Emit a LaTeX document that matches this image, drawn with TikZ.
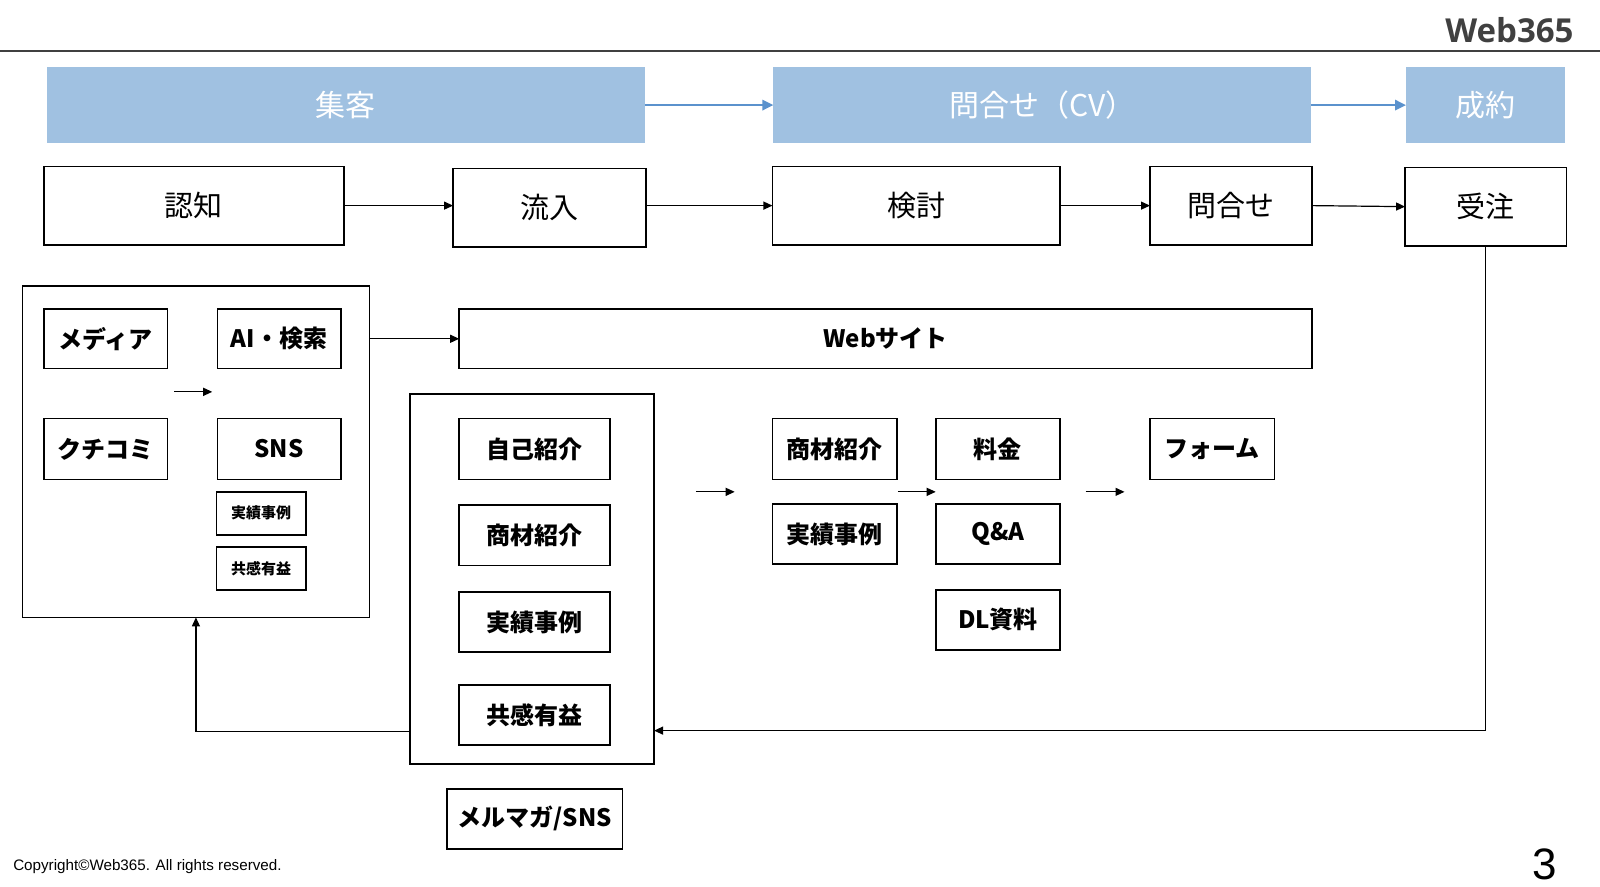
\documentclass[tikz,border=0pt]{standalone}
\usepackage{fontspec}
\setmainfont{Liberation Sans}
\newfontfamily\jp{Noto Sans CJK JP}
\newfontfamily\logo{Open Sans}
\usetikzlibrary{arrows.meta}
\definecolor{hdr}{RGB}{160,193,225}
\definecolor{hdrarrow}{RGB}{91,146,205}
\definecolor{logogray}{RGB}{64,64,64}
\newcommand\bx[7]{\node[#6, minimum width={(#4-#2)*0.5102pt}, minimum height={(#5-#3)*0.5102pt}] (#1) at ({(#2+#4)/2},{(#3+#5)/2}) {#7};}
\begin{document}
\begin{tikzpicture}[x=0.5102pt,y=-0.5102pt,
  base/.style={inner sep=0pt,outer sep=0pt},
  hbox/.style={base,fill=hdr,text=white,font=\jp\fontsize{15pt}{17pt}\selectfont},
  stagebox/.style={base,draw=black,line width=0.8pt,font=\jp\fontsize{14.5pt}{16pt}\selectfont},
  itembox/.style={base,draw=black,line width=0.8pt,font=\jp\bfseries\fontsize{12pt}{14pt}\selectfont},
  smallbox/.style={base,draw=black,line width=0.8pt,font=\jp\bfseries\fontsize{7.5pt}{9pt}\selectfont},
  groupbox/.style={base,draw=black,line width=0.8pt},
  arr/.style={line width=0.6pt,-{Triangle[length=4.5pt,width=4pt]}},
  barr/.style={line width=1.3pt,draw=hdrarrow,-{Triangle[length=5.5pt,width=5pt]}}]
\useasboundingbox (0,0) rectangle (1568,869);
% header
\coordinate (hl) at (0,50);
\coordinate (hr) at (1568,50);
\draw[line width=0.9pt,black!75] (hl) -- (hr);
\node[base,anchor=base east,font=\logo\bfseries\fontsize{16.5pt}{18pt}\selectfont,text=logogray] (logo) at (1542,42) {Web365};
% phase headers
\bx{shukyaku}{46}{66}{632}{140}{hbox}{集客}
\bx{cv}{758}{66}{1285}{140}{hbox}{問合せ（CV）}
\bx{seiyaku}{1378}{66}{1534}{140}{hbox}{成約}
\draw[barr] (shukyaku.east) -- (cv.west);
\draw[barr] (cv.east) -- (seiyaku.west);
% stages
\bx{ninchi}{43}{163}{337}{240}{stagebox}{認知}
\bx{ryunyu}{444}{165}{633}{242}{stagebox}{流入}
\bx{kento}{757}{163}{1039}{240}{stagebox}{検討}
\bx{toiawase}{1127}{163}{1286}{240}{stagebox}{問合せ}
\bx{juchu}{1377}{164}{1535}{241}{stagebox}{受注}
\draw[arr] (ninchi.east) -- (ninchi.east -| ryunyu.west);
\draw[arr] (ryunyu.east |- kento.west) -- (kento.west);
\draw[arr] (kento.east) -- (kento.east -| toiawase.west);
\draw[arr] (toiawase.east) -- (juchu.west);
% left group
\bx{leftgrp}{22}{280}{362}{605}{groupbox}{}
\bx{media}{43}{303}{164}{361}{itembox}{メディア}
\bx{aisearch}{213}{303}{334}{361}{itembox}{AI・検索}
\bx{kuchikomi}{43}{410}{164}{470}{itembox}{クチコミ}
\bx{sns}{213}{410}{334}{470}{itembox}{SNS}
\bx{snsjirei}{212}{482}{300}{524}{smallbox}{実績事例}
\bx{snskyokan}{212}{536}{300}{578}{smallbox}{共感有益}
\coordinate (la1) at (171,384);
\coordinate (la2) at (208,384);
\draw[arr] (la1) -- (la2);
% website
\bx{website}{450}{303}{1286}{361}{itembox}{Webサイト}
\draw[arr] (leftgrp.east |- website.west) -- (website.west);
% middle group
\bx{midgrp}{402}{386}{641}{749}{groupbox}{}
\bx{jiko}{450}{410}{598}{470}{itembox}{自己紹介}
\bx{shozaiA}{450}{495}{598}{554}{itembox}{商材紹介}
\bx{jisekiA}{450}{580}{598}{639}{itembox}{実績事例}
\bx{kyokanA}{450}{671}{598}{730}{itembox}{共感有益}
\bx{mailmag}{438}{773}{610}{832}{itembox}{メルマガ/SNS}
% right items
\bx{shozaiB}{757}{410}{879}{470}{itembox}{商材紹介}
\bx{jisekiB}{757}{494}{879}{553}{itembox}{実績事例}
\bx{ryokin}{917}{410}{1039}{470}{itembox}{料金}
\bx{qa}{917}{494}{1039}{553}{itembox}{Q\&A}
\bx{dl}{917}{578}{1039}{637}{itembox}{DL資料}
\bx{form}{1127}{410}{1249}{470}{itembox}{フォーム}
\coordinate (ma1) at (682,482);
\coordinate (ma2) at (720,482);
\coordinate (mb1) at (880,482);
\coordinate (mb2) at (917,482);
\coordinate (mc1) at (1064,482);
\coordinate (mc2) at (1102,482);
\draw[arr] (ma1) -- (ma2);
\draw[arr] (mb1) -- (mb2);
\draw[arr] (mc1) -- (mc2);
% feedback loops
\coordinate (fbin) at (641,716);
\draw[arr] (juchu.south) |- (fbin);
\coordinate (fbout) at (402,717);
\coordinate (lbin) at (192,605);
\draw[arr] (fbout) -| (lbin);
% footer
\node[base,anchor=base west,font=\fontsize{7.6pt}{8pt}\selectfont] (copy) at (13,853) {Copyright©Web365. All rights reserved.};
\node[base,anchor=base,font=\fontsize{22pt}{22pt}\selectfont] (page) at (1514,862) {3};
\end{tikzpicture}
\end{document}
